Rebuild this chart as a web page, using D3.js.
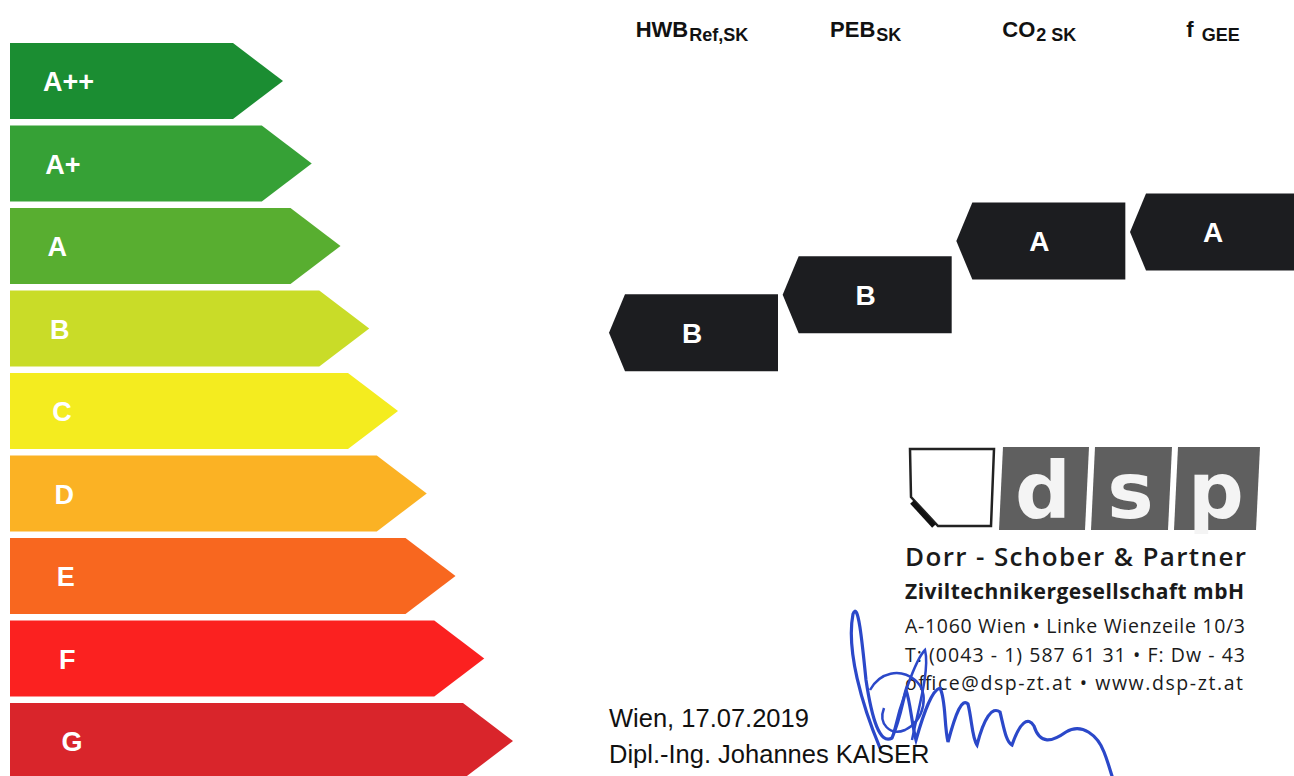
<!DOCTYPE html>
<html>
<head>
<meta charset="utf-8">
<script src="https://cdn.jsdelivr.net/npm/d3@7"></script>
<style>
  body { margin: 0; background: #fff; }
  svg { display: block; }
  .cls-label { font-family: "Liberation Sans", Arial, sans-serif; font-weight: bold; fill: #fff; }
  .hdr { font-family: "Liberation Sans", Arial, sans-serif; font-weight: bold; fill: #111; }
  .stamp { font-family: "Open Sans", "DejaVu Sans", sans-serif; fill: #1a1a1a; }
  .sign { font-family: "Liberation Sans", Arial, sans-serif; fill: #111; }
</style>
</head>
<body>
<svg id="chart" width="1294" height="776"></svg>
<script>
// energy classes, best to worst
const classes = ["A++", "A+", "A", "B", "C", "D", "E", "F", "G"];
const classColors = ["#1b8d32", "#36a136", "#58ae30", "#c9dc28", "#f4ec1f", "#fbb224", "#f8671f", "#fb2120", "#d9252b"];

// indicator columns
const indicators = ["HWB", "PEB", "CO2", "fGEE"];
const headMain = ["HWB", "PEB", "CO", "f"];
const headSub = ["Ref,SK", "SK", "2 SK", "GEE"];
const ratings = ["B", "B", "A", "A"];
// vertical position of each marker on the class scale (as placed on the sheet)
const markerLevel = [3.05, 2.59, 1.94, 1.83];

const svg = d3.select("#chart");

// scales
const y = d3.scaleLinear().domain([0, 8]).range([81, 741]);
const tipX = d3.scaleLinear().domain([0, 8]).range([283, 513]);
const color = d3.scaleOrdinal().domain(classes).range(classColors);
const col = d3.scalePoint().domain(indicators).range([692, 1213]);

const barH = 76, barLeft = 10, tipLen = 50;

// class arrows
const bars = svg.append("g").selectAll("g")
    .data(classes)
    .enter()
    .append("g");

bars.append("path")
    .attr("d", (d, i) => {
        const cy = y(i), t = tipX(i);
        return `M${barLeft},${cy - barH / 2} L${t - tipLen},${cy - barH / 2} L${t},${cy} L${t - tipLen},${cy + barH / 2} L${barLeft},${cy + barH / 2} Z`;
    })
    .attr("fill", d => color(d));

bars.append("text")
    .attr("class", "cls-label")
    .attr("x", (d, i) => 43 + i * 2.3)
    .attr("y", (d, i) => y(i) + 10)
    .attr("font-size", 27)
    .text(d => d);

// column headers
const hdr = svg.append("g").selectAll("text")
    .data(indicators)
    .enter()
    .append("text")
    .attr("class", "hdr")
    .attr("x", d => col(d))
    .attr("y", 37)
    .attr("text-anchor", "middle");

hdr.append("tspan")
    .attr("font-size", 22)
    .text((d, i) => headMain[i]);
hdr.append("tspan")
    .attr("font-size", 18)
    .attr("dx", (d, i) => i === 3 ? 8 : 1)
    .attr("dy", 4)
    .text((d, i) => headSub[i]);

// rating markers (pointing left)
const mH = 77, mW = 153, mTip = 16;
const markers = svg.append("g").selectAll("g")
    .data(indicators)
    .enter()
    .append("g");

markers.append("path")
    .attr("d", (d, i) => {
        const cy = y(markerLevel[i]);
        const x0 = col(d) - 67, x1 = x0 + mW;
        return `M${x0 - mTip},${cy} L${x0},${cy - mH / 2} L${x1},${cy - mH / 2} L${x1},${cy + mH / 2} L${x0},${cy + mH / 2} Z`;
    })
    .attr("fill", "#1c1d20");

markers.append("text")
    .attr("class", "cls-label")
    .attr("x", d => col(d))
    .attr("y", (d, i) => y(markerLevel[i]) + 10)
    .attr("text-anchor", "middle")
    .attr("font-size", 28)
    .text((d, i) => ratings[i]);

// dsp stamp logo
const logo = svg.append("g");
logo.append("path")
    .attr("d", "M910,449 L994,449 L991,526 L938,526 L911,497 Z")
    .attr("fill", "#fff").attr("stroke", "#222").attr("stroke-width", 2.5);
logo.append("line")
    .attr("x1", 912).attr("y1", 502).attr("x2", 934).attr("y2", 526)
    .attr("stroke", "#111").attr("stroke-width", 5);
const segs = [[999, 1087], [1091, 1170], [1174, 1258]];
logo.selectAll("path.seg")
    .data(segs)
    .enter()
    .append("path")
    .attr("class", "seg")
    .attr("d", s => `M${s[0] + 4},447 L${s[1] + 2},447 L${s[1] - 2},530 L${s[0]},530 Z`)
    .attr("fill", "#5f5f5f");
logo.selectAll("text.lt")
    .data(["d", "s", "p"])
    .enter()
    .append("text")
    .attr("class", "lt")
    .attr("x", (d, i) => (segs[i][0] + segs[i][1]) / 2)
    .attr("y", 518)
    .attr("text-anchor", "middle")
    .attr("font-family", "DejaVu Sans, sans-serif")
    .attr("font-weight", "bold")
    .attr("font-size", 78)
    .attr("fill", "#f4f4f4")
    .text(d => d);

// stamp text
const stampLines = [
    { t: "Dorr - Schober & Partner", y: 566, s: 26, w: 600, len: 341 },
    { t: "Ziviltechnikergesellschaft mbH", y: 599, s: 21, w: 700, len: 339 },
    { t: "A-1060 Wien \u2022 Linke Wienzeile 10/3", y: 633, s: 19.5, w: 400, len: 340 },
    { t: "T: (0043 - 1) 587 61 31 \u2022 F: Dw - 43", y: 662, s: 19.5, w: 400, len: 340 },
    { t: "office@dsp-zt.at \u2022 www.dsp-zt.at", y: 690, s: 19.5, w: 400, len: 338 }
];
svg.append("g").selectAll("text")
    .data(stampLines)
    .enter()
    .append("text")
    .attr("class", "stamp")
    .attr("x", 905)
    .attr("y", d => d.y)
    .attr("font-size", d => d.s)
    .attr("font-weight", d => d.w)
    .attr("textLength", d => d.len)
    .attr("lengthAdjust", "spacing")
    .text(d => d.t);

// signature scribble
const ink = "#2b48c9";
svg.append("path")
    .attr("d", "M880,748 C862,705 846,650 853,614 C858,600 862,640 866,680 C872,720 880,745 892,738 C900,720 903,700 906,690 C910,700 912,725 916,740 C924,712 932,690 940,688 C946,700 944,725 948,742 C956,712 962,698 968,704 C972,720 972,738 977,745 C984,718 992,706 1000,712 C1004,728 1006,742 1012,745 C1020,722 1028,716 1034,726 C1040,745 1052,742 1066,732 C1082,722 1098,736 1104,752 C1108,762 1110,770 1112,776")
    .attr("fill", "none")
    .attr("stroke", ink)
    .attr("stroke-width", 3.2)
    .attr("stroke-linecap", "round");
svg.append("path")
    .attr("d", "M870,690 C880,672 900,668 915,680 C930,692 925,720 905,730 C890,736 878,724 884,708")
    .attr("fill", "none")
    .attr("stroke", ink)
    .attr("stroke-width", 2.5);
svg.append("path")
    .attr("d", "M893,735 C900,705 915,660 925,650 C930,670 918,710 912,740")
    .attr("fill", "none")
    .attr("stroke", ink)
    .attr("stroke-width", 2.5);

// place and signatory
svg.append("text").attr("class", "sign")
    .attr("x", 609).attr("y", 727).attr("font-size", 25.5)
    .text("Wien, 17.07.2019");
svg.append("text").attr("class", "sign")
    .attr("x", 609).attr("y", 763).attr("font-size", 25.5)
    .text("Dipl.-Ing. Johannes KAISER");
</script>
</body>
</html>
